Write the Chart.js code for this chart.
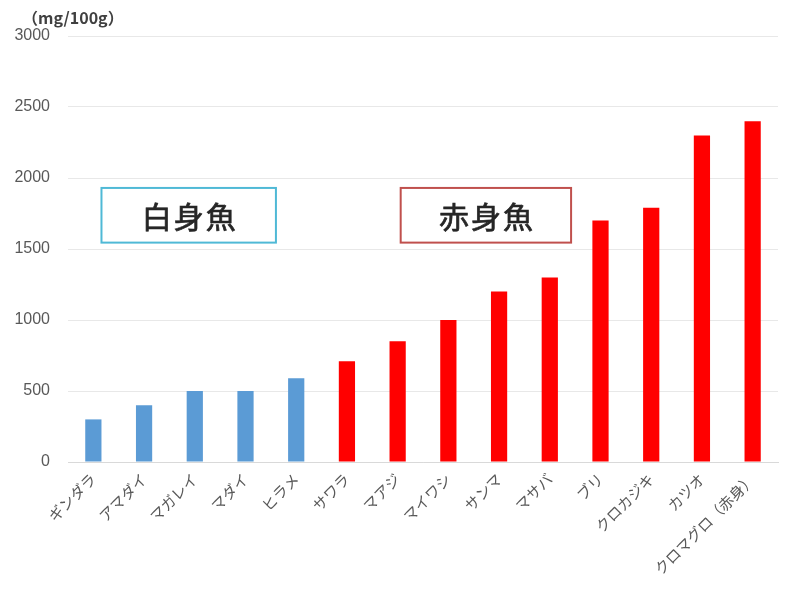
<!DOCTYPE html>
<html>
<head>
<meta charset="utf-8">
<script src="https://cdn.jsdelivr.net/npm/chart.js@4.4.1/dist/chart.umd.min.js"></script>
<style>
    html, body { margin: 0; padding: 0; background: #fff; }
    #wrap { width: 800px; height: 604px; }
</style>
</head>
<body>
<div id="wrap"><canvas id="fish-chart"></canvas></div>
<script>
// EPA+DHA content per fish, mg/100g
const categories = [
    "ギンダラ", "アマダイ", "マガレイ", "マダイ", "ヒラメ",
    "サワラ", "マアジ", "マイワシ", "サンマ", "マサバ",
    "ブリ", "クロカジキ", "カツオ", "クロマグロ（赤身）"
];
const values = [300, 400, 500, 500, 590, 710, 850, 1000, 1200, 1300, 1700, 1790, 2300, 2400];
const groups = [
    "白身魚", "白身魚", "白身魚", "白身魚", "白身魚",
    "赤身魚", "赤身魚", "赤身魚", "赤身魚", "赤身魚",
    "赤身魚", "赤身魚", "赤身魚", "赤身魚"
];
const yTicks = [0, 500, 1000, 1500, 2000, 2500, 3000];
const unitLabel = "（mg/100g）";

const groupColor = { "白身魚": "#5b9bd5", "赤身魚": "#ff0000" };

// label boxes, placed in category-index / value units
const groupBoxes = [
    { text: "白身魚", x0: 0.16, x1: 3.6, y0: 1545, y1: 1930, border: "#4fb9d6" },
    { text: "赤身魚", x0: 6.06, x1: 9.42, y0: 1545, y1: 1930, border: "#c0504d" }
];

const fontJP = "'Noto Sans CJK JP', 'Noto Sans', sans-serif";

const boxPlugin = {
    id: "groupBoxes",
    afterDraw(chart) {
        const ctx = chart.ctx;
        const xs = chart.scales.x;
        const ys = chart.scales.y;
        ctx.save();
        groupBoxes.forEach(b => {
            const left = xs.getPixelForValue(b.x0);
            const right = xs.getPixelForValue(b.x1);
            const top = ys.getPixelForValue(b.y1);
            const bottom = ys.getPixelForValue(b.y0);
            ctx.fillStyle = "#fff";
            ctx.fillRect(left, top, right - left, bottom - top);
            ctx.lineWidth = 2;
            ctx.strokeStyle = b.border;
            ctx.strokeRect(left, top, right - left, bottom - top);
            // regular weight with a thin outline, a bit heavier than plain
            ctx.fillStyle = "#262626";
            ctx.strokeStyle = "#262626";
            ctx.lineWidth = 0.7;
            ctx.font = "30px " + fontJP;
            ctx.letterSpacing = "2px";
            ctx.textAlign = "center";
            ctx.textBaseline = "middle";
            const tx = (left + right) / 2 + 1;
            const ty = (top + bottom) / 2 + 1;
            ctx.fillText(b.text, tx, ty);
            ctx.strokeText(b.text, tx, ty);
        });
        ctx.letterSpacing = "0px";
        ctx.fillStyle = "#404040";
        ctx.font = "bold 16px " + fontJP;
        ctx.textAlign = "left";
        ctx.textBaseline = "middle";
        ctx.fillText(unitLabel, 22, 18);
        ctx.restore();
    }
};

new Chart(document.getElementById("fish-chart"), {
    type: "bar",
    data: {
        labels: categories,
        datasets: [{
            data: values,
            backgroundColor: groups.map(g => groupColor[g]),
            barPercentage: 0.32,
            categoryPercentage: 1
        }]
    },
    options: {
        responsive: true,
        maintainAspectRatio: false,
        animation: false,
        layout: { padding: { top: 36, right: 22, left: 0, bottom: 0 } },
        plugins: {
            legend: { display: false },
            tooltip: { enabled: false }
        },
        scales: {
            x: {
                grid: { display: false, drawTicks: false },
                border: { color: "#d9d9d9" },
                ticks: {
                    autoSkip: false,
                    maxRotation: 45,
                    minRotation: 45,
                    padding: 8,
                    color: "#595959",
                    font: { family: fontJP, size: 15 }
                },
                afterFit(scale) { scale.height = 142; }
            },
            y: {
                min: 0,
                max: 3000,
                afterBuildTicks(scale) { scale.ticks = yTicks.map(v => ({ value: v })); },
                grid: { color: "#e8e8e8", drawTicks: false },
                border: { display: false },
                ticks: {
                    padding: 18,
                    color: "#595959",
                    font: { family: "'Liberation Sans', sans-serif", size: 16 },
                    callback: v => String(v)
                },
                afterFit(scale) { scale.width = 68; }
            }
        }
    },
    plugins: [boxPlugin]
});
</script>
</body>
</html>
